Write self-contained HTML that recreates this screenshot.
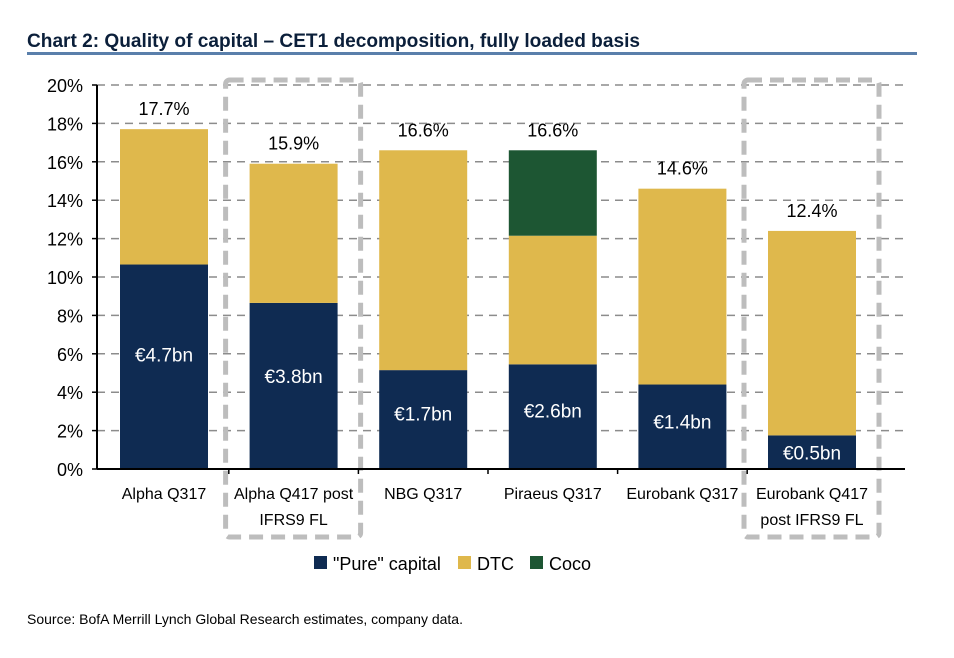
<!DOCTYPE html>
<html><head><meta charset="utf-8"><style>
body{margin:0;background:#fff;width:954px;height:653px;overflow:hidden;font-family:"Liberation Sans",sans-serif}
</style></head><body>
<svg id="c" width="954" height="653" xmlns="http://www.w3.org/2000/svg">
<text x="27" y="47" font-size="19" font-weight="bold" fill="#0b1f3a" textLength="613" lengthAdjust="spacingAndGlyphs">Chart 2: Quality of capital – CET1 decomposition, fully loaded basis</text>
<rect x="27" y="52" width="890" height="3" fill="#5a7fab"/>
<g id="grid"></g><g id="bars"></g><g id="boxes"></g><g id="axes"></g>
<g font-size="18" fill="#000">
<rect x="314" y="556" width="13" height="13" fill="#0f2b52"/>
<text x="333" y="570">"Pure" capital</text>
<rect x="458" y="556" width="13" height="13" fill="#dfb84c"/>
<text x="477" y="570">DTC</text>
<rect x="530" y="556" width="13" height="13" fill="#1d5633"/>
<text x="549" y="570">Coco</text>
</g>
<text x="27" y="624" font-size="14" fill="#000" textLength="436" lengthAdjust="spacingAndGlyphs">Source:  BofA Merrill Lynch Global Research estimates, company data.</text>
</svg>
<script>
const categories=[["Alpha Q317"],["Alpha Q417 post","IFRS9 FL"],["NBG Q317"],["Piraeus Q317"],["Eurobank Q317"],["Eurobank Q417","post IFRS9 FL"]];
const pure=[10.65,8.65,5.15,5.45,4.4,1.75];
const dtc=[7.05,7.25,11.45,6.7,10.2,10.65];
const coco=[0,0,0,4.45,0,0];
const totalLabels=["17.7%","15.9%","16.6%","16.6%","14.6%","12.4%"];
const pureLabels=["€4.7bn","€3.8bn","€1.7bn","€2.6bn","€1.4bn","€0.5bn"];
const yTicks=[0,2,4,6,8,10,12,14,16,18,20];
const boxed=[1,5];
const NS="http://www.w3.org/2000/svg";
const y0=469,yTop=85,xL=97,xR=905,bw=88;
const y=v=>y0-(v/20)*(y0-yTop);
const xc=i=>164+i*129.6;
function mk(tag,attrs,parent,txt){const e=document.createElementNS(NS,tag);for(const k in attrs)e.setAttribute(k,attrs[k]);if(txt!=null)e.textContent=txt;parent.appendChild(e);return e;}
const G=document.getElementById('grid'),B=document.getElementById('bars'),X=document.getElementById('boxes'),A=document.getElementById('axes');
yTicks.forEach(t=>{
 if(t>0){const l=mk('line',{x1:xL,x2:xR,y1:y(t),y2:y(t),stroke:'#8c8c8c','stroke-width':1.5,'stroke-dasharray':'8,6'},G);
 
 }
 const tk=mk('line',{x1:xL-5,x2:xL,y1:y(t),y2:y(t),stroke:'#000','stroke-width':1.5},A);
 
 
 const tl=mk('text',{x:xL-14,y:y(t)+7,'text-anchor':'end','font-size':18},A,t+'%');
 
 
});
categories.forEach((c,i)=>{
 const x=xc(i)-bw/2;
 const segs=[[0,pure[i],'#0f2b52','pure'],[pure[i],pure[i]+dtc[i],'#dfb84c','dtc'],[pure[i]+dtc[i],pure[i]+dtc[i]+coco[i],'#1d5633','coco']];
 segs.forEach(s=>{if(s[1]>s[0]){const r=mk('rect',{x:x,y:y(s[1]),width:bw,height:y(s[0])-y(s[1]),fill:s[2]},B);
  
  }});
 const tot=pure[i]+dtc[i]+coco[i];
 const t=mk('text',{x:xc(i),y:y(tot)-14,'text-anchor':'middle','font-size':18},B,totalLabels[i]);
 
 
 const py=pure[i]>3?y(pure[i]*0.56)+7:y(pure[i])+24;
 const p=mk('text',{x:xc(i),y:py,'text-anchor':'middle','font-size':19,fill:'#fff'},B,pureLabels[i]);
 
 
 c.forEach((ln,j)=>{const ct=mk('text',{x:xc(i),y:499+j*26,'text-anchor':'middle','font-size':16},A,ln);
  
  });
 if(i>0){const tk=mk('line',{x1:xc(i)-64.8,x2:xc(i)-64.8,y1:y0,y2:y0+5,stroke:'#000','stroke-width':1.5},A);
  
  }
});
boxed.forEach(i=>{const r=mk('rect',{x:xc(i)-68,y:80,width:135,height:457,rx:4,fill:'none',stroke:'#bdbdbd','stroke-width':5,'stroke-dasharray':'14,8'},X);
 
 });
const ax=mk('line',{x1:xL,x2:xL,y1:yTop,y2:y0,stroke:'#000','stroke-width':2},A);


const bx=mk('line',{x1:xL,x2:xR,y1:y0,y2:y0,stroke:'#000','stroke-width':2},A);


</script>
</body></html>
